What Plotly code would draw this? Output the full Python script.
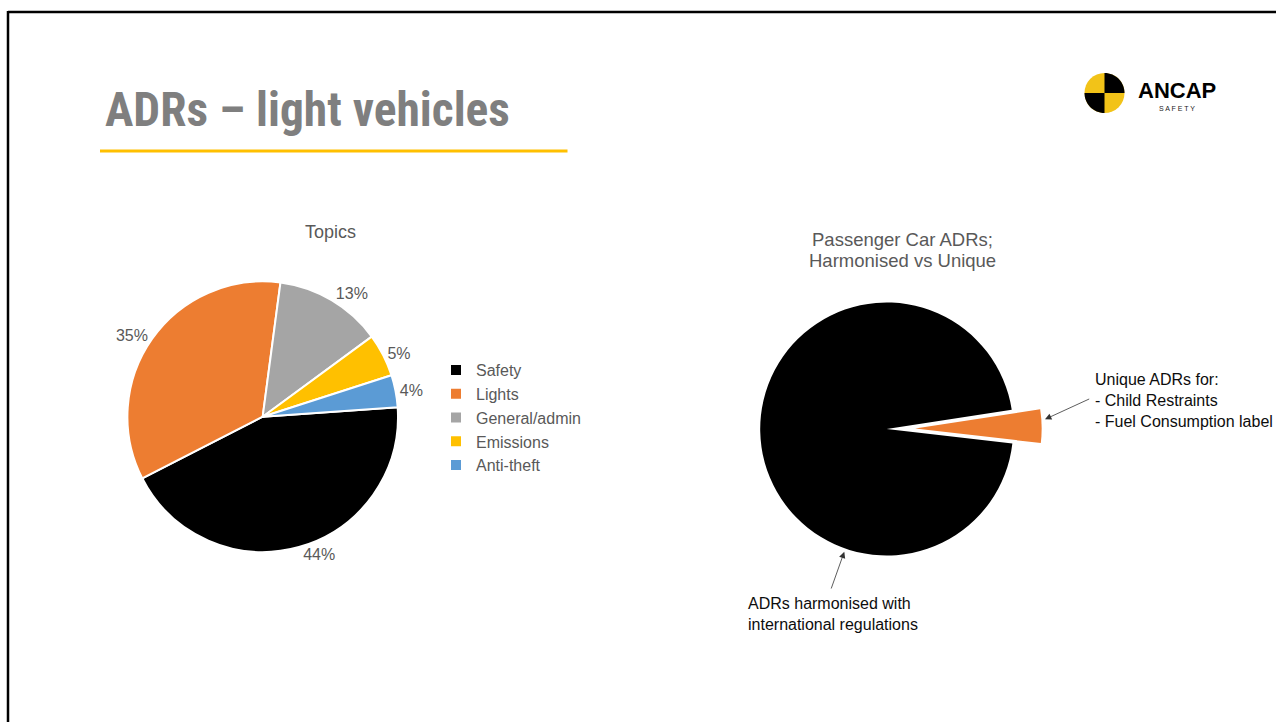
import plotly.graph_objects as go

W, H = 1276, 722

# ---- data ----
topic_labels = ["Safety", "Lights", "General/admin", "Emissions", "Anti-theft"]
topic_counts = [34, 27, 10, 4, 3]
topic_colors = ["#000000", "#ED7D31", "#A5A5A5", "#FFC000", "#5B9BD5"]

adr_labels = ["ADRs harmonised with international regulations", "Unique ADRs"]
adr_counts = [45, 2]
adr_colors = ["#000000", "#ED7D31"]
adr_pull = [0, 0.225]

slide_title = "ADRs – light vehicles"
left_title = "Topics"
right_title_lines = ["Passenger Car ADRs;", "Harmonised vs Unique"]
unique_note = "Unique ADRs for:<br>- Child Restraints<br>- Fuel Consumption label"
harmonised_note = "ADRs harmonised with<br>international regulations"


def px(x):
    return x / W


def py(y):
    return 1 - y / H


TXT = "#595959"
FONT = "Liberation Sans, Arial, sans-serif"

fig = go.Figure()

# left pie: centre (262.7, 416.7), r = 135.3
lc, lr = (262.7, 416.7), 135.3
fig.add_trace(go.Pie(
    labels=topic_labels, values=topic_counts, sort=False,
    direction="clockwise", rotation=86,
    marker=dict(colors=topic_colors, line=dict(color="white", width=2)),
    texttemplate="%{percent:.0%}", textposition="outside",
    outsidetextfont=dict(size=16, color=TXT, family=FONT),
    domain=dict(x=[px(lc[0] - lr), px(lc[0] + lr)], y=[py(lc[1] + lr), py(lc[1] - lr)]),
    showlegend=True, hoverinfo="label+percent",
))

# right pie: centre (886.7, 429), r = 126.5, pulled slice
rc, rr = (886.7, 429.0), 126.5 * (1 + max(adr_pull))
fig.add_trace(go.Pie(
    labels=adr_labels, values=adr_counts, sort=False,
    direction="clockwise", rotation=96.6, pull=adr_pull,
    marker=dict(colors=adr_colors, line=dict(width=0)),
    textinfo="none",
    domain=dict(x=[px(rc[0] - rr), px(rc[0] + rr)], y=[py(rc[1] + rr), py(rc[1] - rr)]),
    showlegend=False, hoverinfo="label+percent",
))

shapes = [
    dict(type="line", xref="paper", yref="paper", x0=px(8), x1=px(1280), y0=py(12), y1=py(12),
         line=dict(color="black", width=2.5)),
    dict(type="line", xref="paper", yref="paper", x0=px(8), x1=px(8), y0=py(11), y1=py(730),
         line=dict(color="black", width=2.5)),
    dict(type="line", xref="paper", yref="paper", x0=px(100), x1=px(567.5), y0=py(151), y1=py(151),
         line=dict(color="#FFC000", width=3)),
]

# ANCAP logo circle (quartered)
cx, cy, r = 1104.5, 93.0, 20.0
k = 0.5523 * r
shapes.append(dict(type="circle", xref="paper", yref="paper",
                   x0=px(cx - r), x1=px(cx + r), y0=py(cy + r), y1=py(cy - r),
                   fillcolor="#F2C318", line=dict(width=0)))


def quarter(sx, sy):
    p = [
        (cx, cy), (cx, cy + sy * r),
        (cx + sx * k, cy + sy * r), (cx + sx * r, cy + sy * k), (cx + sx * r, cy),
    ]
    q = [(px(a), py(b)) for a, b in p]
    return (f"M{q[0][0]},{q[0][1]} L{q[1][0]},{q[1][1]} "
            f"C{q[2][0]},{q[2][1]} {q[3][0]},{q[3][1]} {q[4][0]},{q[4][1]} Z")


for sx, sy in [(1, -1), (-1, 1)]:
    shapes.append(dict(type="path", xref="paper", yref="paper", path=quarter(sx, sy),
                       fillcolor="#000000", line=dict(width=0)))

annotations = [
    dict(text=slide_title, x=px(103), y=py(110), xanchor="left", yanchor="middle",
         showarrow=False, font=dict(family="Roboto Condensed, Liberation Sans Narrow, DejaVu Sans Condensed, sans-serif",
                                    size=47.5, color="#7F7F7F", weight="bold")),
    dict(text="ANCAP", x=px(1177), y=py(90), xanchor="center", yanchor="middle", showarrow=False,
         font=dict(family=FONT, size=22, color="#000000", weight="bold")),
    dict(text="S A F E T Y", x=px(1177), y=py(108), xanchor="center", yanchor="middle", showarrow=False,
         font=dict(family=FONT, size=7, color="#222222")),
    dict(text=left_title, x=px(330.7), y=py(231.7), xanchor="center", yanchor="middle", showarrow=False,
         font=dict(family=FONT, size=18, color=TXT)),
    dict(text=right_title_lines[0], x=px(902.5), y=py(240), xanchor="center", yanchor="middle",
         showarrow=False, font=dict(family=FONT, size=18.5, color=TXT)),
    dict(text=right_title_lines[1], x=px(902.5), y=py(260), xanchor="center", yanchor="middle",
         showarrow=False, font=dict(family=FONT, size=18.5, color=TXT)),
    dict(text=unique_note, x=px(1092.7), y=py(400.3), xanchor="left", yanchor="middle", align="left",
         showarrow=False, font=dict(family=FONT, size=16, color="#0D0D0D")),
    dict(text=harmonised_note, x=px(746), y=py(614), xanchor="left", yanchor="middle", align="left",
         showarrow=False, font=dict(family=FONT, size=16, color="#0D0D0D")),
    dict(text="", x=px(1045), y=py(419.3), ax=45.7, ay=-21, showarrow=True, arrowhead=2,
         arrowsize=1.6, arrowwidth=0.8, arrowcolor="#333333", standoff=0, startstandoff=0),
    dict(text="", x=px(844.3), y=py(551.7), ax=-13.6, ay=38.3, showarrow=True, arrowhead=2,
         arrowsize=1.6, arrowwidth=0.8, arrowcolor="#333333", standoff=0, startstandoff=0),
]

fig.update_layout(
    width=W, height=H, margin=dict(l=0, r=0, t=0, b=0),
    paper_bgcolor="white", plot_bgcolor="white",
    font=dict(family=FONT, color=TXT),
    shapes=shapes, annotations=annotations,
    legend=dict(x=px(436), y=py(353), xanchor="left", yanchor="top",
                font=dict(family=FONT, size=16, color=TXT), bgcolor="rgba(0,0,0,0)"),
)

fig.write_html("out.html", config={"displayModeBar": False},
               post_script="document.body.style.margin='0px';")
